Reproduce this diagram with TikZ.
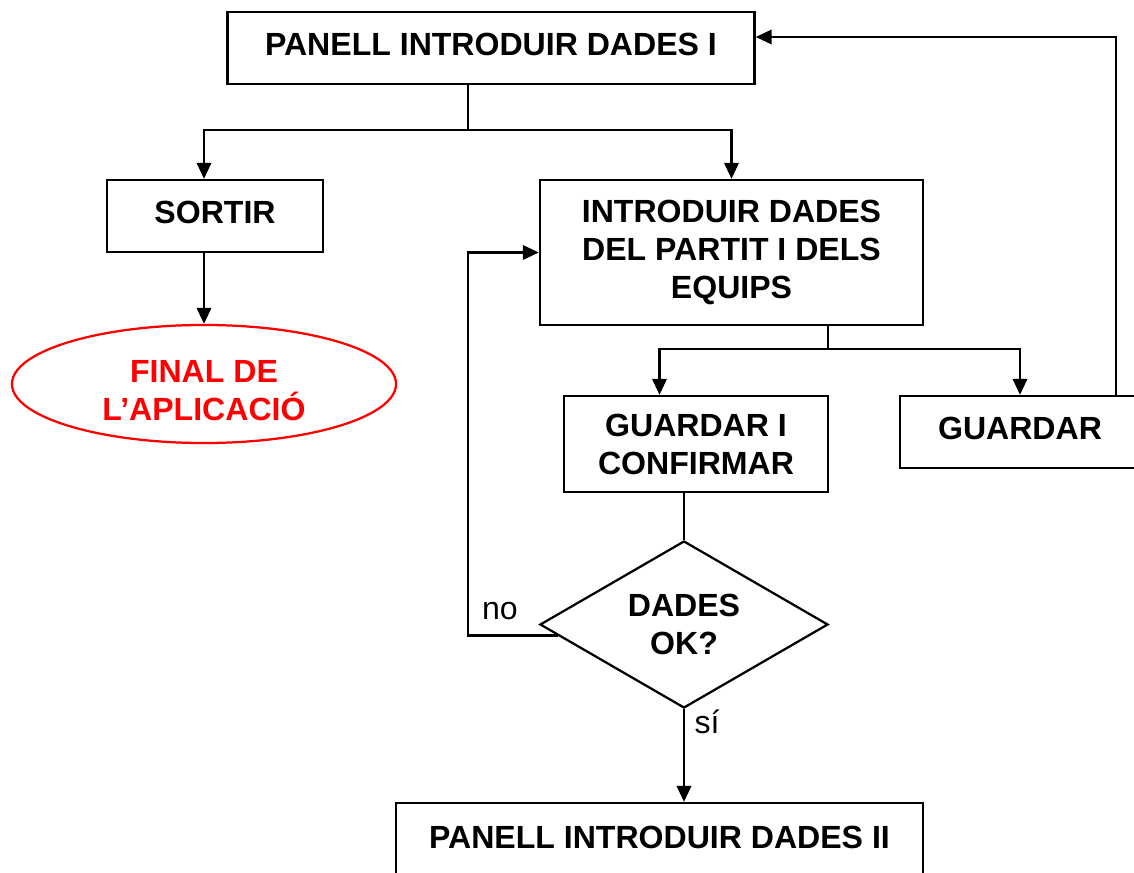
\documentclass[tikz,border=0pt]{standalone}
\usepackage{fontspec}
\setmainfont{Liberation Sans}
\usetikzlibrary{shapes.geometric,arrows.meta,calc}
\definecolor{fcred}{RGB}{255,0,0}

\begin{document}
\begin{tikzpicture}[x=0.025cm,y=-0.025cm,line width=1.6pt,
    >={Triangle[length=0.4cm,width=0.36cm]},
    every node/.style={font=\fontsize{22.8}{27}\selectfont},
    box/.style={draw,rectangle,align=center,inner sep=0pt,font=\fontsize{22.8}{27}\selectfont\bfseries},
    onebox/.style={box,text depth=0.2cm},
    endbox/.style={draw=fcred,ellipse,align=center,inner sep=0pt,text=fcred,font=\fontsize{22.8}{27}\selectfont\bfseries},
    askbox/.style={draw,diamond,aspect=1.7,align=center,inner sep=0pt,font=\fontsize{22.8}{27}\selectfont\bfseries}]
  \clip (0,0) rectangle (1134,873);
  \node[onebox,minimum width=13.175cm,minimum height=1.8cm] (panelI) at (491,48) {PANELL INTRODUIR DADES I};
  \node[onebox,minimum width=5.4cm,minimum height=1.8cm] (sortir) at (215,216) {SORTIR};
  \node[endbox,minimum width=9.6cm,minimum height=2.95cm] (final) at (204,384) {\rule{0pt}{0.88cm}FINAL DE\\L’APLICACIÓ};
  \node[box,minimum width=9.575cm,minimum height=3.625cm] (intro) at (731.5,252.5) {INTRODUIR DADES\\DEL PARTIT I DELS\\EQUIPS};
  \node[box,minimum width=6.6cm,minimum height=2.4cm] (confirm) at (696,444) {GUARDAR I\\CONFIRMAR};
  \node[onebox,minimum width=6cm,minimum height=1.8cm] (guardar) at (1020,432) {GUARDAR};
  \node[askbox,minimum width=7.2cm,minimum height=4.175cm] (dadesok) at (684,624.5) {DADES\\OK?};
  \node[onebox,minimum width=13.175cm,minimum height=1.9cm] (panelII) at (659.5,841) {PANELL INTRODUIR DADES II};
  \node (nolbl) at (500,611) {no};
  \node (silbl) at (707,722) {sí};
  \coordinate (split1) at (468,130);
  \coordinate (split2) at (828,349);
  \coordinate (back) at (1116,37);
  \coordinate (noStart) at ($(dadesok.west)!0.13!(dadesok.south)$);
  \draw (panelI.south -| split1) -- (split1);
  \draw[->] (split1) -| (sortir.north -| final.north);
  \draw[->] (split1) -| (intro.north);
  \draw[->] (sortir.south -| final.north) -- (final.north);
  \draw (intro.south -| split2) -- (split2);
  \draw[->] (split2) -| (confirm.north -| panelII.north);
  \draw[->] (split2) -| (guardar.north);
  \draw[->] (guardar.north -| back) -- (back) -- (panelI.east |- back);
  \draw (confirm.south -| dadesok.north) -- (dadesok.north);
  \draw[->] (noStart) -| (split1 |- intro.west) -- (intro.west);
  \draw[->] (dadesok.south) -- (panelII.north -| dadesok.south);
\end{tikzpicture}
\end{document}
